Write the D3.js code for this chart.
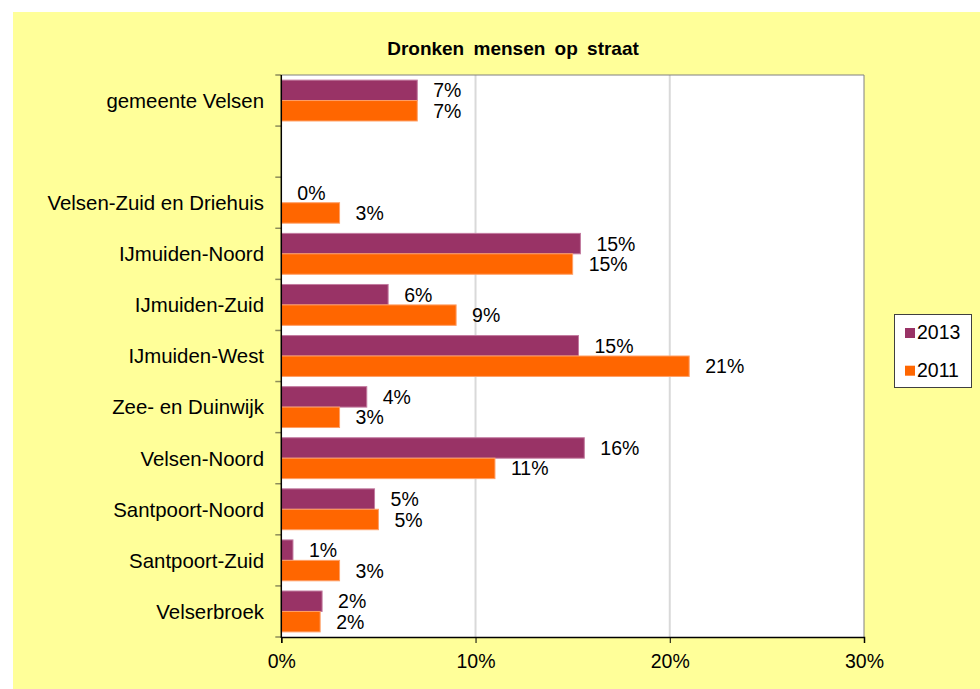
<!DOCTYPE html>
<html>
<head>
<meta charset="utf-8">
<script src="https://cdn.jsdelivr.net/npm/d3@7"></script>
<style>
    body { margin: 0; background: #fff; }
    svg text { font-family: "Liberation Sans", Arial, sans-serif; fill: #000; }
</style>
</head>
<body>
<div id="container"></div>
<script>
"use strict"

/* DATA
 */
const categories = ["gemeente Velsen", "", "Velsen-Zuid en Driehuis", "IJmuiden-Noord",
    "IJmuiden-Zuid", "IJmuiden-West", "Zee- en Duinwijk", "Velsen-Noord",
    "Santpoort-Noord", "Santpoort-Zuid", "Velserbroek"];
const values2013 = [7.0, null, 0, 15.4, 5.5, 15.3, 4.4, 15.6, 4.8, 0.6, 2.1];
const values2011 = [7.0, null, 3.0, 15.0, 9.0, 21.0, 3.0, 11.0, 5.0, 3.0, 2.0];
const seriesNames = ["2013", "2011"];
const seriesColors = ["#993366", "#FF6600"];
const seriesEdges = ["#c27a9f", "#ff9f66"];
const xTicks = [0, 10, 20, 30];
const title = "Dronken mensen op straat";

/* CHART
 */
const W = 980, H = 689;
const plot = { left: 281.3, right: 864, top: 75, bottom: 637 };

const svg = d3.select("#container").append("svg")
    .attr("width", W)
    .attr("height", H);

svg.append("rect")
    .attr("x", 13).attr("y", 12)
    .attr("width", W - 13).attr("height", H - 12)
    .attr("fill", "#FFFF99");

svg.append("rect")
    .attr("x", plot.left).attr("y", plot.top)
    .attr("width", plot.right - plot.left).attr("height", plot.bottom - plot.top)
    .attr("fill", "#fff");

const x = d3.scaleLinear().domain([0, 30]).range([plot.left, plot.right]);
const y = d3.scaleBand()
    .domain(d3.range(categories.length))
    .range([plot.top, plot.bottom])
    .paddingInner(0.2)
    .paddingOuter(0.1);
const ySub = d3.scaleBand().domain([0, 1]).range([0, y.bandwidth()]);

// gridlines
svg.append("g")
    .selectAll("line")
    .data(xTicks.filter((d) => d > 0 && d < 30))
    .enter().append("line")
    .attr("x1", (d) => x(d)).attr("x2", (d) => x(d))
    .attr("y1", plot.top).attr("y2", plot.bottom)
    .attr("stroke", "#d9d9d9")
    .attr("stroke-width", 2);

// plot border (top & right)
svg.append("path")
    .attr("d", `M${plot.left},${plot.top}H${plot.right}V${plot.bottom}`)
    .attr("fill", "none")
    .attr("stroke", "#808080")
    .attr("stroke-width", 1);

// bars
const series = [values2013, values2011];
const fmt = (v) => d3.format(".0%")(v / 100);

series.forEach((vals, s) => {
    const g = svg.append("g");
    const rows = vals.map((v, i) => ({ i: i, v: v })).filter((d) => d.v !== null);
    g.selectAll("rect")
        .data(rows)
        .enter().append("rect")
        .attr("x", x(0))
        .attr("y", (d) => y(d.i) + ySub(s))
        .attr("width", (d) => x(d.v) - x(0))
        .attr("height", ySub.bandwidth())
        .attr("fill", seriesColors[s])
        .attr("stroke", (d) => d.v > 0 ? seriesEdges[s] : "none")
        .attr("stroke-width", 1);
    g.selectAll("text")
        .data(rows)
        .enter().append("text")
        .attr("x", (d) => x(d.v) + 16)
        .attr("y", (d) => y(d.i) + ySub(s) + ySub.bandwidth() / 2)
        .attr("dy", "0.36em")
        .style("font-size", "19.5px")
        .text((d) => fmt(d.v));
});

// y axis
const yAxis = svg.append("g");
yAxis.selectAll("line")
    .data(d3.range(categories.length + 1))
    .enter().append("line")
    .attr("x1", plot.left - 6).attr("x2", plot.left)
    .attr("y1", (d) => plot.top + d * y.step())
    .attr("y2", (d) => plot.top + d * y.step())
    .attr("stroke", "#8c8c5a")
    .attr("stroke-width", 1.5);
yAxis.append("line")
    .attr("x1", plot.left).attr("x2", plot.left)
    .attr("y1", plot.top).attr("y2", plot.bottom + 1)
    .attr("stroke", "#000")
    .attr("stroke-width", 1.5);
yAxis.selectAll("text")
    .data(categories)
    .enter().append("text")
    .attr("x", 264)
    .attr("y", (d, i) => y(i) + y.bandwidth() / 2)
    .attr("dy", "0.36em")
    .attr("text-anchor", "end")
    .style("font-size", "20.4px")
    .text((d) => d);

// x axis
const xAxis = svg.append("g")
    .attr("transform", `translate(0,${plot.bottom})`)
    .call(d3.axisBottom(x).tickValues(xTicks).tickSize(6).tickPadding(11)
        .tickFormat((d) => d + "%"));
xAxis.select(".domain").attr("stroke", "#000").attr("stroke-width", 1.5);
xAxis.selectAll(".tick line").attr("stroke", "#000");
xAxis.selectAll(".tick text")
    .style("font-size", "19.5px")
    .style("font-family", "'Liberation Sans', Arial, sans-serif")
    .attr("fill", "#000");

// title
svg.append("text")
    .attr("x", 513).attr("y", 55)
    .attr("text-anchor", "middle")
    .style("font-size", "19px")
    .style("font-weight", "bold")
    .style("word-spacing", "4px")
    .text(title);

// legend
const legend = svg.append("g");
legend.append("rect")
    .attr("x", 894.5).attr("y", 314.5)
    .attr("width", 77).attr("height", 73)
    .attr("fill", "#fff")
    .attr("stroke", "#404040");
seriesNames.forEach((name, s) => {
    const ly = 328 + s * 37.7;
    legend.append("rect")
        .attr("x", 905).attr("y", ly)
        .attr("width", 10).attr("height", 10)
        .attr("fill", seriesColors[s]);
    legend.append("text")
        .attr("x", 917).attr("y", ly + 11)
        .style("font-size", "19.5px")
        .text(name);
});
</script>
</body>
</html>
